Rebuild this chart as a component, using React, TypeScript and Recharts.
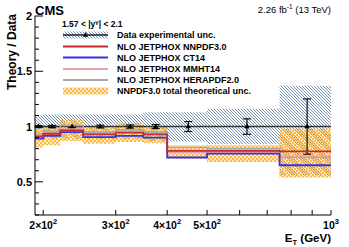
import React from "react";
import { ComposedChart, Area, Line, Scatter, ErrorBar, XAxis, YAxis } from "recharts";

// photon E_T bins (GeV)
const binEdges = [190, 200, 220, 250, 300, 350, 400, 500, 750, 1000];
const binCenters = [195, 210, 235, 275, 325, 375, 450, 625, 875];

// data / data and its uncertainties
const dataRatio = [1, 1, 1, 1, 1, 1, 1, 1, 1];
const statErr = [0.008, 0.01, 0.01, 0.012, 0.014, 0.018, 0.045, 0.07, 0.25];
const expLow = [0.9, 0.89, 0.89, 0.89, 0.89, 0.87, 0.865, 0.84, 0.56];
const expHigh = [1.1, 1.11, 1.11, 1.11, 1.11, 1.13, 1.13, 1.16, 1.37];

// theory / data
const nnpdf30 = [0.91, 0.935, 0.965, 0.93, 0.945, 0.93, 0.78, 0.78, 0.775];
const ct14 = [0.89, 0.915, 0.95, 0.905, 0.915, 0.9, 0.72, 0.755, 0.65];
const mmht14 = [0.92, 0.945, 0.975, 0.935, 0.95, 0.935, 0.765, 0.77, 0.73];
const herapdf20 = [0.935, 0.96, 1.01, 0.95, 0.97, 0.95, 0.81, 0.8, 0.72];
const nnpdfLow = [0.81, 0.83, 0.87, 0.845, 0.86, 0.85, 0.71, 0.68, 0.54];
const nnpdfHigh = [0.98, 1.0, 1.06, 1.0, 1.03, 1.0, 0.83, 0.83, 0.98];

const xTicks = [200, 300, 400, 500, 600, 700, 800, 900, 1000];
const xTickLabels: Record<number, [string, string]> = {
  200: ["2×10", "2"],
  300: ["3×10", "2"],
  400: ["4×10", "2"],
  500: ["5×10", "2"],
  1000: ["10", "3"],
};
const yTicks = [0.2, 0.3, 0.4, 0.5, 0.6, 0.7, 0.8, 0.9, 1, 1.1, 1.2, 1.3, 1.4, 1.5, 1.6, 1.7, 1.8, 1.9, 2];
const yTickLabels: Record<string, string> = { "0.5": "0.5", "1": "1", "1.5": "1.5", "2": "2" };

const legendLabels = [
  "Data experimental unc.",
  "NLO JETPHOX NNPDF3.0",
  "NLO JETPHOX CT14",
  "NLO JETPHOX MMHT14",
  "NLO JETPHOX HERAPDF2.0",
  "NNPDF3.0 total theoretical unc.",
];

const C = {
  nnpdf: "#c92a2a",
  ct14: "#3434ea",
  mmht: "#e6a3a3",
  hera: "#a3a9b3",
  hatch: "#5a7ca3",
  orange: "#ffb93f",
};
const FONT = "'Liberation Sans', Arial, Helvetica, sans-serif";

// step histograms: repeat last bin value at the upper edge
const rows = binEdges.map((x, i) => {
  const j = Math.min(i, nnpdf30.length - 1);
  return {
    x,
    data: dataRatio[j],
    nnpdf: nnpdf30[j],
    ct14: ct14[j],
    mmht: mmht14[j],
    hera: herapdf20[j],
    theo: [nnpdfLow[j], nnpdfHigh[j]],
    exp: [expLow[j], expHigh[j]],
  };
});
const points = binCenters.map((x, i) => ({ x, y: dataRatio[i], err: statErr[i] }));

function Patterns({ p }: { p: string }) {
  return (
    <defs>
      <pattern id={p + "hatch"} width="3" height="3" patternUnits="userSpaceOnUse">
        <path d="M0,0L3,3M-1,2L1,4M2,-1L4,1" stroke={C.hatch} strokeWidth="0.85" />
      </pattern>
      <pattern id={p + "dots"} width="4" height="4" patternUnits="userSpaceOnUse">
        <path
          fillRule="evenodd"
          fill={C.orange}
          d="M0,0H4V4H0Z M0.1,1a0.9,0.9 0 1,0 1.8,0a0.9,0.9 0 1,0 -1.8,0Z M2.1,3a0.9,0.9 0 1,0 1.8,0a0.9,0.9 0 1,0 -1.8,0Z"
        />
      </pattern>
    </defs>
  );
}

const isMajor = (v: number) => Math.abs(v * 2 - Math.round(v * 2)) < 1e-6;

function LeftTick({ x, y, payload }: any) {
  const v = payload.value;
  const ax = x + 3;
  const lab = yTickLabels[String(v)];
  return (
    <g>
      <line x1={ax} x2={ax + (isMajor(v) ? 8 : 4)} y1={y} y2={y} stroke="#000" />
      {lab && (
        <text x={x} y={y + 4} textAnchor="end" fontFamily={FONT} fontWeight="bold" fontSize={11} fill="#000">
          {lab}
        </text>
      )}
    </g>
  );
}

function RightTick({ x, y, payload }: any) {
  const len = isMajor(payload.value) ? 8 : 4;
  return <line x1={x} x2={x - len} y1={y} y2={y} stroke="#000" />;
}

function BottomTick({ x, y, payload }: any) {
  const ay = y - 3;
  const lab = xTickLabels[payload.value];
  return (
    <g>
      <line x1={x} x2={x} y1={ay} y2={ay - 5} stroke="#000" />
      {lab && (
        <text x={x} y={ay + 14} textAnchor="middle" fontFamily={FONT} fontWeight="bold" fontSize={10.5} fill="#000">
          {lab[0]}
          <tspan dy={-5} fontSize={7.5}>{lab[1]}</tspan>
        </text>
      )}
    </g>
  );
}

function TopTick({ x, y }: any) {
  return <line x1={x} x2={x} y1={y} y2={y + 5} stroke="#000" />;
}

function Triangle({ cx, cy }: any) {
  return <path d={`M${cx},${cy - 3}L${cx + 2.6},${cy + 1.8}L${cx - 2.6},${cy + 1.8}Z`} fill="#000" />;
}

function Overlay() {
  const rowY = [35, 46.5, 57.5, 69, 80, 91];
  const lineColors = [C.nnpdf, C.ct14, C.mmht, C.hera];
  return (
    <svg width={349} height={247} style={{ position: "absolute", left: 0, top: 0, pointerEvents: "none" }}>
      <Patterns p="lg" />
      <text x={35} y={15} fontFamily={FONT} fontWeight="bold" fontSize={13}>CMS</text>
      <text x={331} y={13} textAnchor="end" fontFamily={FONT} fontSize={9.5}>
        2.26 fb<tspan dy={-4} fontSize={6.5}>-1</tspan>
        <tspan dy={4}> (13 TeV)</tspan>
      </text>
      <text x={62} y={27} fontFamily={FONT} fontWeight="bold" fontSize={8.5}>
        1.57 {"<"} |y<tspan dy={-3} fontSize={6}>γ</tspan>
        <tspan dy={3}>| {"<"} 2.1</tspan>
      </text>
      {/* data */}
      <rect x={63} y={rowY[0] - 3.5} width={45} height={7} fill="url(#lghatch)" />
      <line x1={63} x2={108} y1={rowY[0]} y2={rowY[0]} stroke="#222" strokeWidth={1.3} />
      <path d={`M85.5,${rowY[0] - 3}L88.1,${rowY[0] + 1.8}L82.9,${rowY[0] + 1.8}Z`} fill="#000" />
      {lineColors.map((c, i) => (
        <line key={c} x1={63} x2={108} y1={rowY[i + 1]} y2={rowY[i + 1]} stroke={c} strokeWidth={2} />
      ))}
      <rect x={63} y={rowY[5] - 3.5} width={45} height={7} fill="url(#lgdots)" />
      {legendLabels.map((t, i) => (
        <text key={t} x={117} y={rowY[i] + 3.3} fontFamily={FONT} fontWeight="bold" fontSize={9}>
          {t}
        </text>
      ))}
      <text
        transform="translate(16,14) rotate(-90)"
        textAnchor="end"
        fontFamily={FONT}
        fontWeight="bold"
        fontSize={12}
      >
        Theory / Data
      </text>
      <text x={331} y={242} textAnchor="end" fontFamily={FONT} fontWeight="bold" fontSize={11.5}>
        E<tspan dy={2.5} fontSize={7.5}>T</tspan>
        <tspan dy={-2.5}> (GeV)</tspan>
      </text>
    </svg>
  );
}

const Empty = () => <g />;

export default function App() {
  return (
    <div style={{ position: "absolute", left: 0, top: 0, width: 349, height: 247, background: "#fff" }}>
      <ComposedChart width={349} height={247} data={rows} margin={{ top: 16, right: 18, bottom: 0, left: 0 }}>
        <Patterns p="ch" />
        <XAxis
          dataKey="x"
          type="number"
          scale="log"
          domain={[191, 1000]}
          allowDataOverflow
          ticks={xTicks}
          height={32}
          tickSize={0}
          tickMargin={3}
          tickLine={false}
          axisLine={{ stroke: "#000" }}
          tick={<BottomTick />}
          interval={0}
        />
        <XAxis
          xAxisId="t"
          orientation="top"
          dataKey="x"
          type="number"
          scale="log"
          domain={[191, 1000]}
          allowDataOverflow
          ticks={xTicks}
          height={0}
          tickSize={0}
          tickMargin={0}
          tickLine={false}
          axisLine={{ stroke: "#000" }}
          tick={<TopTick />}
          interval={0}
        />
        <YAxis
          type="number"
          domain={[0.2, 2]}
          allowDataOverflow
          ticks={yTicks}
          width={35}
          tickSize={0}
          tickMargin={3}
          tickLine={false}
          axisLine={{ stroke: "#000" }}
          tick={<LeftTick />}
          interval={0}
        />
        <YAxis
          yAxisId="r"
          orientation="right"
          type="number"
          domain={[0.2, 2]}
          allowDataOverflow
          ticks={yTicks}
          width={0}
          tickSize={0}
          tickMargin={0}
          tickLine={false}
          axisLine={{ stroke: "#000" }}
          tick={<RightTick />}
          interval={0}
        />
        <Area dataKey="exp" type="stepAfter" stroke="none" fill="url(#chhatch)" fillOpacity={1} isAnimationActive={false} />
        <Line dataKey="data" type="stepAfter" stroke="#333" strokeWidth={1.5} dot={false} activeDot={false} isAnimationActive={false} />
        <Scatter data={points} dataKey="y" shape={<Empty />} isAnimationActive={false}>
          <ErrorBar dataKey="err" direction="y" width={4} stroke="#111" strokeWidth={1.2} isAnimationActive={false} />
        </Scatter>
        <Area dataKey="theo" type="stepAfter" stroke="none" fill="url(#chdots)" fillOpacity={1} isAnimationActive={false} />
        <Line dataKey="hera" type="stepAfter" stroke={C.hera} strokeWidth={1.6} dot={false} activeDot={false} isAnimationActive={false} />
        <Line dataKey="mmht" type="stepAfter" stroke={C.mmht} strokeWidth={1.6} dot={false} activeDot={false} isAnimationActive={false} />
        <Line dataKey="ct14" type="stepAfter" stroke={C.ct14} strokeWidth={1.8} dot={false} activeDot={false} isAnimationActive={false} />
        <Line dataKey="nnpdf" type="stepAfter" stroke={C.nnpdf} strokeWidth={1.8} dot={false} activeDot={false} isAnimationActive={false} />
        <Scatter data={points} dataKey="y" shape={<Triangle />} legendType="none" isAnimationActive={false} />
      </ComposedChart>
      <Overlay />
    </div>
  );
}
